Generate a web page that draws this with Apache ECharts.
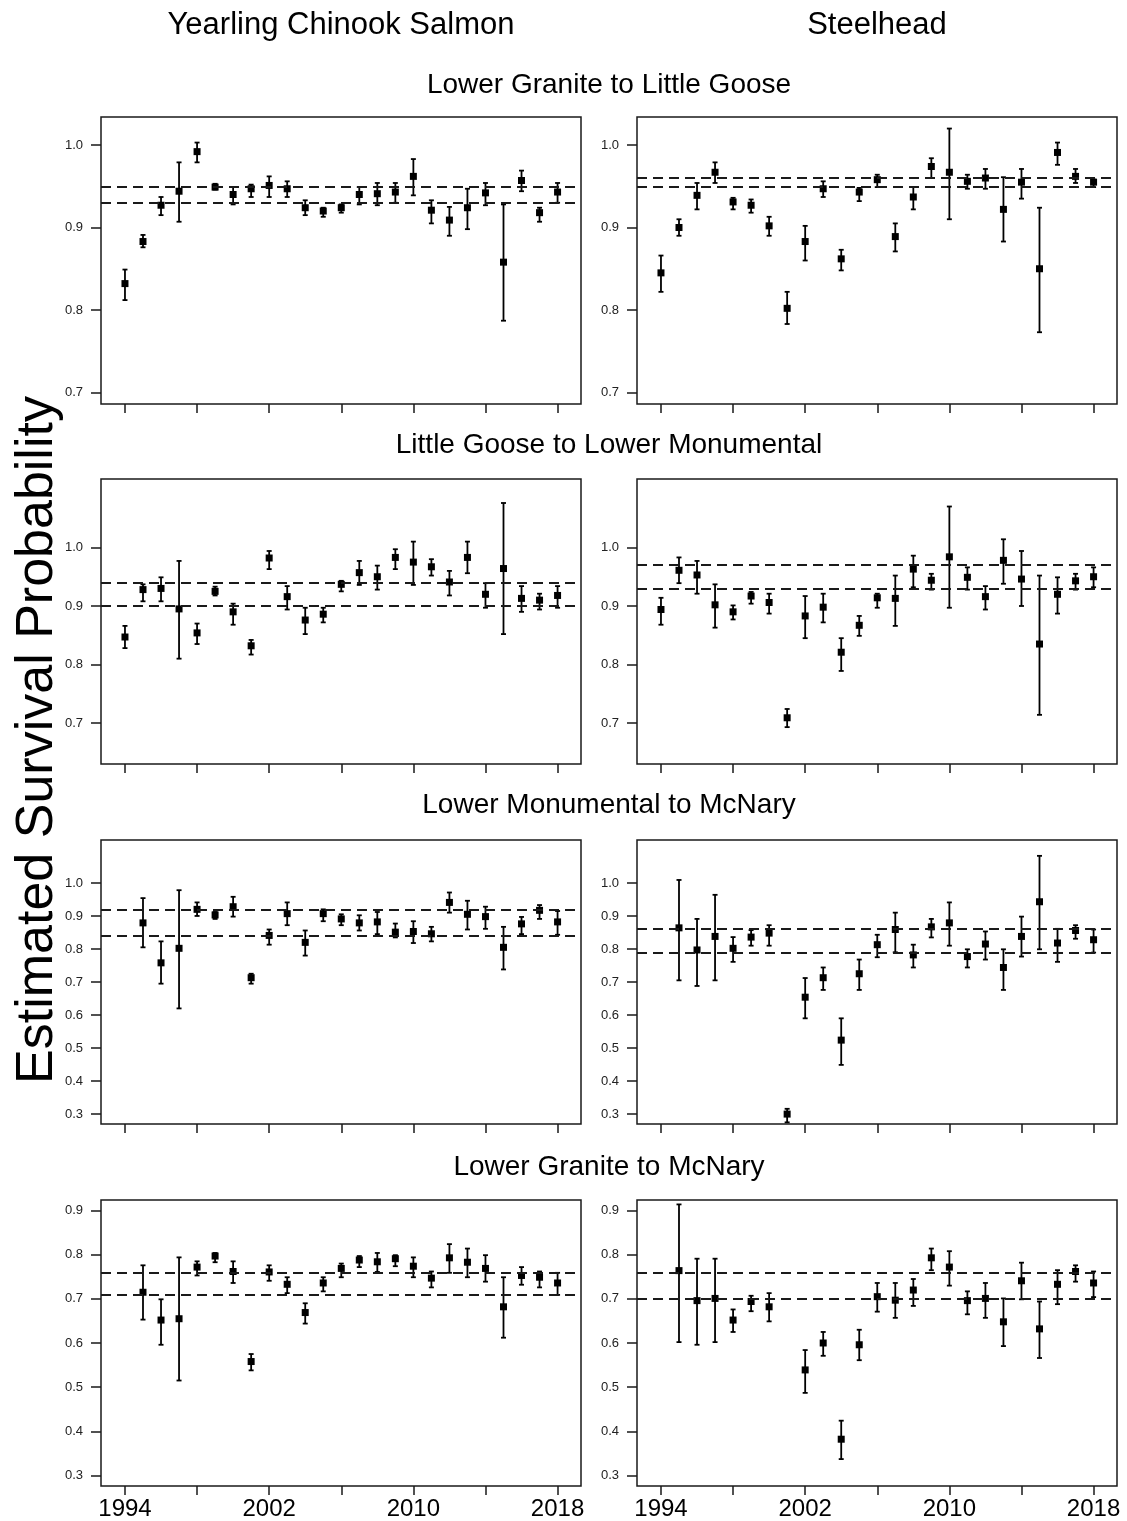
<!DOCTYPE html>
<html>
<head>
<meta charset="utf-8">
<script src="https://cdn.jsdelivr.net/npm/echarts@6/dist/echarts.min.js"></script>
<style>
html,body{margin:0;padding:0;background:#fff}
#main{width:1127px;height:1521px}
</style>
</head>
<body>
<div id="main"></div>
<script>
// data (estimate, lower, upper) per panel
var years = [1994,1995,1996,1997,1998,1999,2000,2001,2002,2003,2004,2005,2006,2007,2008,2009,2010,2011,2012,2013,2014,2015,2016,2017,2018];

// Lower Granite to Little Goose
var chkLgrLgo   = [0.832,0.883,0.927,0.944,0.992,0.949,0.940,0.947,0.951,0.947,0.924,0.920,0.924,0.940,0.941,0.943,0.962,0.921,0.909,0.924,0.942,0.858,0.957,0.918,0.943];
var chkLgrLgoLo = [0.812,0.876,0.915,0.907,0.979,0.946,0.928,0.937,0.937,0.937,0.915,0.913,0.918,0.928,0.927,0.930,0.939,0.905,0.890,0.898,0.927,0.787,0.944,0.907,0.930];
var chkLgrLgoHi = [0.849,0.891,0.937,0.979,1.003,0.953,0.949,0.952,0.962,0.956,0.933,0.924,0.928,0.949,0.954,0.954,0.983,0.933,0.925,0.947,0.954,0.928,0.969,0.924,0.954];
var chkLgrLgoCI = [0.954,0.930];
var sthLgrLgo   = [0.845,0.900,0.939,0.967,0.931,0.927,0.902,0.802,0.883,0.947,0.862,0.943,0.958,0.889,0.937,0.974,0.967,0.956,0.960,0.922,0.955,0.850,0.991,0.962,0.955];
var sthLgrLgoLo = [0.822,0.890,0.922,0.954,0.922,0.918,0.890,0.783,0.860,0.937,0.848,0.932,0.949,0.871,0.922,0.960,0.910,0.947,0.947,0.883,0.935,0.773,0.976,0.954,0.949];
var sthLgrLgoHi = [0.866,0.910,0.954,0.979,0.936,0.934,0.913,0.822,0.902,0.956,0.873,0.948,0.964,0.905,0.949,0.984,1.020,0.964,0.971,0.961,0.971,0.924,1.003,0.971,0.958];
var sthLgrLgoCI = [0.959,0.947];

// Little Goose to Lower Monumental
var chkLgoLmn   = [0.847,0.928,0.930,0.895,0.854,0.925,0.890,0.832,0.982,0.916,0.876,0.886,0.937,0.957,0.950,0.983,0.975,0.967,0.941,0.983,0.920,0.964,0.913,0.910,0.918];
var chkLgoLmnLo = [0.828,0.908,0.908,0.810,0.835,0.918,0.868,0.817,0.963,0.894,0.852,0.872,0.925,0.936,0.928,0.963,0.936,0.952,0.918,0.956,0.897,0.852,0.890,0.894,0.897];
var chkLgoLmnHi = [0.866,0.937,0.949,0.977,0.870,0.933,0.904,0.842,0.994,0.934,0.897,0.897,0.943,0.977,0.969,0.997,1.010,0.980,0.960,1.010,0.939,1.076,0.934,0.921,0.934];
var chkLgoLmnCI = [0.935,0.897];
var sthLgoLmn   = [0.894,0.961,0.953,0.902,0.890,0.917,0.906,0.709,0.883,0.898,0.821,0.867,0.914,0.913,0.963,0.944,0.984,0.949,0.916,0.978,0.946,0.835,0.920,0.943,0.950];
var sthLgoLmnLo = [0.868,0.939,0.921,0.863,0.877,0.904,0.887,0.693,0.845,0.872,0.789,0.849,0.897,0.866,0.932,0.928,0.897,0.928,0.894,0.938,0.900,0.714,0.887,0.928,0.932];
var sthLgoLmnHi = [0.914,0.983,0.977,0.937,0.901,0.924,0.921,0.724,0.917,0.921,0.845,0.883,0.921,0.952,0.986,0.955,1.070,0.966,0.934,1.014,0.994,0.952,0.949,0.955,0.966];
var sthLgoLmnCI = [0.966,0.932];

// Lower Monumental to McNary
var chkLmnMcn   = [null,0.879,0.758,0.802,0.920,0.903,0.928,0.713,0.841,0.907,0.820,0.907,0.891,0.879,0.882,0.851,0.853,0.846,0.941,0.905,0.898,0.805,0.876,0.917,0.882];
var chkLmnMcnLo = [null,0.805,0.695,0.620,0.900,0.891,0.898,0.695,0.813,0.872,0.780,0.884,0.872,0.856,0.845,0.835,0.818,0.823,0.910,0.859,0.861,0.738,0.845,0.891,0.843];
var chkLmnMcnHi = [null,0.954,0.823,0.978,0.941,0.912,0.958,0.725,0.859,0.941,0.856,0.920,0.905,0.902,0.912,0.877,0.884,0.867,0.971,0.946,0.928,0.867,0.897,0.933,0.915];
var chkLmnMcnCI = [0.915,0.841];
var sthLmnMcn   = [null,0.864,0.797,0.838,0.802,0.836,0.848,0.300,0.654,0.713,0.524,0.725,0.813,0.859,0.782,0.867,0.879,0.777,0.815,0.744,0.838,0.943,0.818,0.856,0.828];
var sthLmnMcnLo = [null,0.705,0.688,0.705,0.761,0.810,0.810,0.275,0.590,0.676,0.449,0.676,0.775,0.790,0.744,0.835,0.810,0.744,0.768,0.676,0.777,0.799,0.761,0.831,0.789];
var sthLmnMcnHi = [null,1.009,0.891,0.964,0.836,0.857,0.872,0.316,0.712,0.744,0.590,0.768,0.843,0.910,0.813,0.891,0.941,0.799,0.853,0.799,0.898,1.082,0.861,0.872,0.859];
var sthLmnMcnCI = [0.860,0.787];

// Lower Granite to McNary
var chkLgrMcn   = [null,0.715,0.652,0.655,0.772,0.797,0.762,0.558,0.761,0.733,0.669,0.736,0.769,0.788,0.784,0.791,0.774,0.747,0.793,0.783,0.769,0.682,0.753,0.749,0.736];
var chkLgrMcnLo = [null,0.653,0.596,0.515,0.753,0.783,0.736,0.538,0.741,0.713,0.644,0.717,0.749,0.772,0.761,0.774,0.749,0.726,0.759,0.749,0.739,0.612,0.732,0.726,0.709];
var chkLgrMcnHi = [null,0.776,0.699,0.794,0.785,0.804,0.785,0.575,0.776,0.749,0.690,0.749,0.780,0.797,0.804,0.799,0.794,0.762,0.824,0.814,0.799,0.749,0.772,0.762,0.759];
var chkLgrMcnCI = [0.759,0.707];
var sthLgrMcn   = [null,0.764,0.696,0.701,0.652,0.694,0.682,null,0.539,0.600,0.382,0.596,0.705,0.697,0.720,0.793,0.772,0.696,0.701,0.648,0.741,0.632,0.733,0.762,0.736];
var sthLgrMcnLo = [null,0.602,0.596,0.602,0.625,0.672,0.649,null,0.487,0.571,0.337,0.561,0.671,0.657,0.684,0.765,0.730,0.665,0.657,0.593,0.699,0.566,0.688,0.739,0.704];
var sthLgrMcnHi = [null,0.914,0.791,0.791,0.676,0.707,0.713,null,0.584,0.625,0.424,0.630,0.736,0.736,0.745,0.814,0.808,0.717,0.736,0.701,0.782,0.694,0.765,0.776,0.762];
var sthLgrMcnCI = [0.762,0.704];

var speciesTitles = ['Yearling Chinook Salmon', 'Steelhead'];
var reachTitles = ['Lower Granite to Little Goose', 'Little Goose to Lower Monumental', 'Lower Monumental to McNary', 'Lower Granite to McNary'];
var xTicks = [1994, 1998, 2002, 2006, 2010, 2014, 2018];
var xTickLabels = [1994, 2002, 2010, 2018];
var yTicksUpper = [0.7, 0.8, 0.9, 1.0];
var yTicksWide = [0.3, 0.4, 0.5, 0.6, 0.7, 0.8, 0.9, 1.0];
var yTicksLgrMcn = [0.3, 0.4, 0.5, 0.6, 0.7, 0.8, 0.9];

var panels = [
  [chkLgrLgo, chkLgrLgoLo, chkLgrLgoHi, chkLgrLgoCI], [sthLgrLgo, sthLgrLgoLo, sthLgrLgoHi, sthLgrLgoCI],
  [chkLgoLmn, chkLgoLmnLo, chkLgoLmnHi, chkLgoLmnCI], [sthLgoLmn, sthLgoLmnLo, sthLgoLmnHi, sthLgoLmnCI],
  [chkLmnMcn, chkLmnMcnLo, chkLmnMcnHi, chkLmnMcnCI], [sthLmnMcn, sthLmnMcnLo, sthLmnMcnHi, sthLmnMcnCI],
  [chkLgrMcn, chkLgrMcnLo, chkLgrMcnHi, chkLgrMcnCI], [sthLgrMcn, sthLgrMcnLo, sthLgrMcnHi, sthLgrMcnCI]
];

// layout
var colLeft = [101, 637];
var colWidth = 480;
var rowTop = [117, 479, 840, 1200];
var rowHeight = [287, 285, 284, 287];
var yRange = [[0.686, 1.034], [0.630, 1.117], [0.27, 1.13], [0.276, 0.924]];
var yTicksByRow = [yTicksUpper, yTicksUpper, yTicksWide, yTicksLgrMcn];

var FONT = '"Liberation Sans", Arial, sans-serif';
var INK = '#1a1a1a';

function renderErrorBar(params, api) {
  var x = api.value(0);
  var pEst = api.coord([x, api.value(1)]);
  var pLo = api.coord([x, api.value(2)]);
  var pHi = api.coord([x, api.value(3)]);
  var cap = 2.5, half = 3.5;
  var ln = {stroke: '#000', lineWidth: 1.8};
  return {
    type: 'group',
    children: [
      {type: 'line', shape: {x1: pLo[0], y1: pLo[1], x2: pHi[0], y2: pHi[1]}, style: ln},
      {type: 'line', shape: {x1: pHi[0] - cap, y1: pHi[1], x2: pHi[0] + cap, y2: pHi[1]}, style: ln},
      {type: 'line', shape: {x1: pLo[0] - cap, y1: pLo[1], x2: pLo[0] + cap, y2: pLo[1]}, style: ln},
      {type: 'rect', shape: {x: pEst[0] - half, y: pEst[1] - half, width: half * 2, height: half * 2}, style: {fill: '#000'}}
    ]
  };
}

var grids = [], xAxes = [], yAxes = [], series = [];
panels.forEach(function (p, i) {
  var row = Math.floor(i / 2), col = i % 2;
  grids.push({
    left: colLeft[col], top: rowTop[row], width: colWidth, height: rowHeight[row],
    show: true, borderColor: INK, borderWidth: 1.5, backgroundColor: '#fff'
  });
  xAxes.push({
    type: 'value', gridIndex: i, min: 1992.67, max: 2019.3,
    axisLine: {show: false},
    splitLine: {show: false},
    axisTick: {show: true, length: 9, customValues: xTicks, lineStyle: {color: INK, width: 1.5}},
    axisLabel: {
      show: row === 3, customValues: xTickLabels, margin: 11,
      fontFamily: FONT, fontSize: 24, color: '#000',
      formatter: function (v) { return String(Math.round(v)); }
    }
  });
  yAxes.push({
    type: 'value', gridIndex: i, min: yRange[row][0], max: yRange[row][1],
    axisLine: {show: false},
    splitLine: {show: false},
    axisTick: {show: true, length: 10, customValues: yTicksByRow[row], lineStyle: {color: INK, width: 1.5}},
    axisLabel: {
      show: true, customValues: yTicksByRow[row], margin: 18,
      fontFamily: FONT, fontSize: 13, color: '#222',
      formatter: function (v) { return v.toFixed(1); }
    }
  });
  var data = [];
  years.forEach(function (yr, k) {
    if (p[0][k] != null) data.push([yr, p[0][k], p[1][k], p[2][k]]);
  });
  series.push({
    type: 'line', xAxisIndex: i, yAxisIndex: i, data: [], silent: true,
    markLine: {
      silent: true, symbol: ['none', 'none'], label: {show: false},
      lineStyle: {color: INK, width: 2, type: [10, 6]},
      data: [{yAxis: p[3][0]}, {yAxis: p[3][1]}]
    }
  });
  series.push({
    type: 'custom', xAxisIndex: i, yAxisIndex: i, clip: true,
    renderItem: renderErrorBar, data: data, z: 3
  });
});

var texts = [];
speciesTitles.forEach(function (t, c) {
  texts.push({type: 'text', x: colLeft[c] + colWidth / 2, y: 25,
    style: {text: t, font: '31px ' + FONT, fill: '#000', textAlign: 'center', textVerticalAlign: 'middle'}});
});
var reachY = [85, 445, 805, 1167];
reachTitles.forEach(function (t, r) {
  texts.push({type: 'text', x: 609, y: reachY[r],
    style: {text: t, font: '28px ' + FONT, fill: '#000', textAlign: 'center', textVerticalAlign: 'middle'}});
});
texts.push({type: 'text', x: 38, y: 740, rotation: Math.PI / 2,
  style: {text: 'Estimated Survival Probability', font: '52px ' + FONT, fill: '#000', textAlign: 'center', textVerticalAlign: 'middle'}});

var chart = echarts.init(document.getElementById('main'));
chart.setOption({
  animation: false,
  backgroundColor: '#fff',
  grid: grids,
  xAxis: xAxes,
  yAxis: yAxes,
  graphic: texts,
  series: series
});
</script>
</body>
</html>
